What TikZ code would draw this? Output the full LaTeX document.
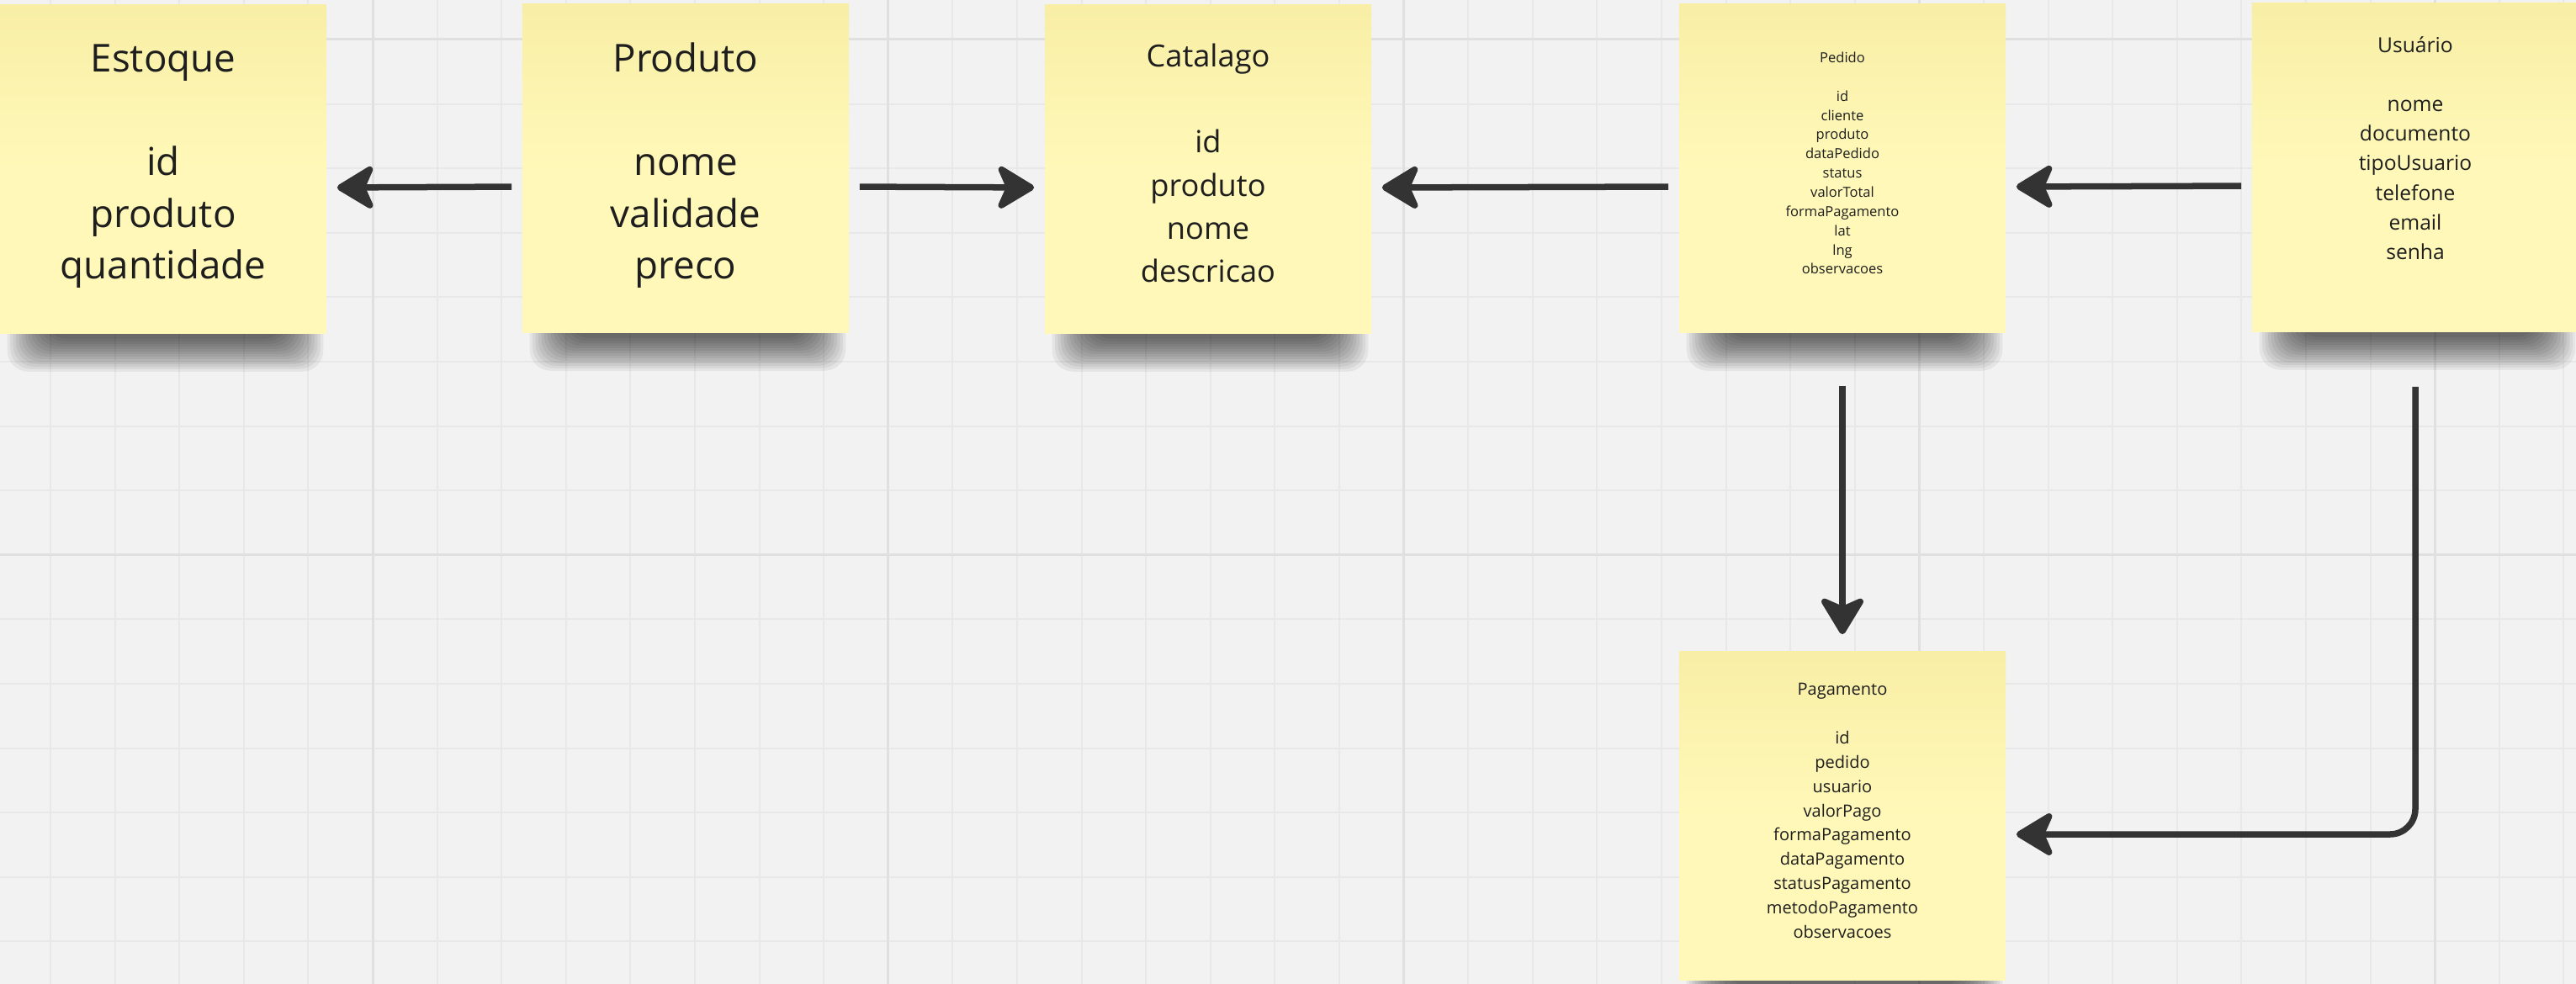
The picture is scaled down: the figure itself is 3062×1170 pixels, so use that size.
\documentclass[tikz,border=0pt]{standalone}
\usepackage{fontspec}
\setmainfont{Open Sans}
\usetikzlibrary{arrows.meta,calc}

\definecolor{board}{HTML}{F2F2F2}
\definecolor{gridminor}{HTML}{E8E8E8}
\definecolor{gridmajor}{HTML}{E0E0E0}
\definecolor{stickytop}{HTML}{F8EEA6}
\definecolor{stickyfill}{HTML}{FFF8B8}
\definecolor{ink}{HTML}{1E1E1E}
\definecolor{wire}{HTML}{333333}

\pgfdeclarelayer{boardlayer}
\pgfdeclarelayer{shadelayer}
\pgfsetlayers{boardlayer,shadelayer,main}

\tikzset{
  sticky/.style={rectangle, inner sep=0pt, minimum width=3.88cm, minimum height=3.9cm,
                 top color=stickytop, bottom color=stickyfill, middle color=stickyfill},
  fields/.style={align=center, text=ink, inner sep=0pt},
  link/.style={wire, line width=0.75mm, shorten <=1.2mm, shorten >=1.2mm,
               -{Stealth[length=5mm, width=6mm, inset=1.3mm, round]}},
  gridline/.style={gridminor, line width=0.2mm},
  gridmain/.style={gridmajor, line width=0.3mm},
  smudge/.style={black, opacity=0.055, rounded corners=2.5mm}
}

\begin{document}
\begin{tikzpicture}[x=0.01cm, y=-0.01cm]
  \path[use as bounding box, clip] (0,0) rectangle (3062,1170);

  % sticky notes
  \node[sticky] (estoque)   at (194,201)  {};
  \node[sticky] (produto)   at (815,200)  {};
  \node[sticky] (catalago)  at (1436,201) {};
  \node[sticky] (pedido)    at (2190,200) {};
  \node[sticky] (usuario)   at (2871,199) {};
  \node[sticky] (pagamento) at (2190,970) {};

  \node[fields, font=\fontsize{13pt}{17.5pt}\selectfont] (estoque-t) at ([yshift=0.3mm]estoque.center)
    {Estoque\\[\baselineskip]id\\produto\\quantidade};
  \node[fields, font=\fontsize{13pt}{17.5pt}\selectfont] (produto-t) at ([yshift=0.3mm]produto.center)
    {Produto\\[\baselineskip]nome\\validade\\preco};
  \node[fields, font=\fontsize{10.3pt}{14.6pt}\selectfont] (catalago-t) at ([yshift=0.7mm]catalago.center)
    {Catalago\\[\baselineskip]id\\produto\\nome\\descricao};
  \node[fields, font=\fontsize{4.7pt}{6.5pt}\selectfont] (pedido-t) at ([yshift=0.6mm]pedido.center)
    {Pedido\\[\baselineskip]id\\cliente\\produto\\dataPedido\\status\\valorTotal\\formaPagamento\\lat\\lng\\observacoes};
  \node[fields, font=\fontsize{7pt}{10pt}\selectfont] (usuario-t) at ([yshift=2.3mm]usuario.center)
    {Usuário\\[\baselineskip]nome\\documento\\tipoUsuario\\telefone\\email\\senha};
  \node[fields, font=\fontsize{5.7pt}{8.2pt}\selectfont] (pagamento-t) at ([yshift=0.6mm]pagamento.center)
    {Pagamento\\[\baselineskip]id\\pedido\\usuario\\valorPago\\formaPagamento\\dataPagamento\\statusPagamento\\metodoPagamento\\observacoes};

  % board and grid
  \begin{pgfonlayer}{boardlayer}
    \fill[board] (0,0) rectangle (3062,1170);
    \foreach \k in {0,...,39}
      \draw[gridline] ({60+76.6*\k},0) -- ({60+76.6*\k},1170);
    \foreach \k in {0,...,14}
      \draw[gridline] (0,{47+76.6*\k}) -- (3062,{47+76.6*\k});
    \foreach \k in {0,...,4}
      \draw[gridmain] ({443+612.8*\k},0) -- ({443+612.8*\k},1170);
    \foreach \k in {0,1}
      \draw[gridmain] (0,{47+612.8*\k}) -- (3062,{47+612.8*\k});
  \end{pgfonlayer}

  % soft shadow under each note
  \begin{pgfonlayer}{shadelayer}
    \foreach \n in {estoque,produto,catalago,pedido,usuario,pagamento}
      \foreach \s in {0,...,13}
        \fill[smudge] ($(\n.south west)+({55-3.5*\s},-60)$) rectangle ($(\n.south east)+({-50+3.5*\s},{6+3*\s})$);
  \end{pgfonlayer}

  % connectors
  \draw[link] ([yshift=-2.2mm]produto.west) -- ([yshift=-2.2mm]estoque.east);
  \draw[link] ([yshift=-2.2mm]produto.east) -- ([yshift=-2.2mm]catalago.west);
  \draw[link] ([yshift=-2.2mm]pedido.west) -- ([yshift=-2.2mm]catalago.east);
  \draw[link] ([yshift=-2.2mm]usuario.west) -- ([yshift=-2.2mm]pedido.east);
  \draw[link, shorten <=6.3mm, shorten >=2mm] (pedido.south) -- (pagamento.north);
  \draw[link, shorten <=6.5mm, rounded corners=3mm] (usuario.south) |- ([yshift=-2.2mm]pagamento.east);
\end{tikzpicture}
\end{document}
